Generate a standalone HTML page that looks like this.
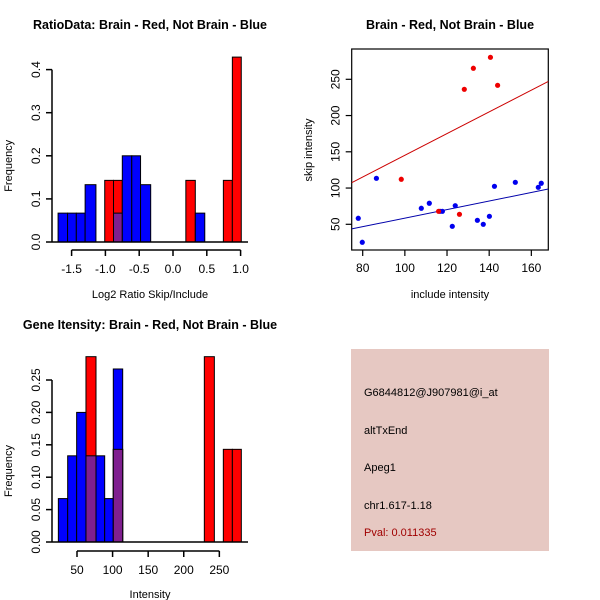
<!DOCTYPE html>
<html><head><meta charset="utf-8"><style>
html,body{margin:0;padding:0;background:#fff}
svg{display:block;font-family:"Liberation Sans",sans-serif}
</style></head><body>
<svg id="c" width="600" height="600" xmlns="http://www.w3.org/2000/svg">
<rect x="0" y="0" width="600" height="600" fill="#fff"/>
<g id="p1"></g>
<g id="p2"></g>
<g id="p3"></g>
<g>
<rect x="351" y="349" width="198" height="202" fill="#e6c8c2"/>
<text x="364" y="396" font-size="11" fill="#000">G6844812@J907981@i_at</text>
<text x="364" y="434" font-size="11" fill="#000">altTxEnd</text>
<text x="364" y="471" font-size="11" fill="#000">Apeg1</text>
<text x="364" y="509" font-size="11" fill="#000">chr1.617-1.18</text>
<text x="364" y="536" font-size="11" fill="#a00000">Pval: 0.011335</text>
</g>
</svg>
<script>
// ---- Panel 1 data: ratio histogram ----
const ratioBlueBins = [[-1.70,-1.56],[-1.56,-1.43],[-1.43,-1.30],[-1.30,-1.14],[-0.88,-0.75],[-0.75,-0.61],[-0.61,-0.48],[-0.48,-0.33],[0.33,0.47]];
const ratioBlueFreq = [0.067,0.067,0.067,0.133,0.067,0.2,0.2,0.133,0.067];
const ratioRedBins = [[-1.01,-0.88],[-0.88,-0.75],[0.19,0.33],[0.745,0.878],[0.878,1.01]];
const ratioRedFreq = [0.143,0.143,0.143,0.143,0.429];
const ratioXTicks = [-1.5,-1.0,-0.5,0.0,0.5,1.0];
const ratioXLabels = ["-1.5","-1.0","-0.5","0.0","0.5","1.0"];
const ratioYTicks = [0,0.1,0.2,0.3,0.4];
const ratioYLabels = ["0.0","0.1","0.2","0.3","0.4"];
// ---- Panel 2 data: scatter ----
const blueX = [77.9,79.8,86.5,107.8,111.6,116.7,117.8,122.5,123.9,134.4,137.2,140.1,142.5,152.4,163.3,164.7];
const blueY = [58.3,25.2,113.4,72.1,79.0,67.9,67.9,47.2,75.7,55.5,50.0,61.0,102.4,107.9,101.0,106.6];
const redX = [98.3,128.2,132.5,140.6,144.0,125.9,116.0];
const redY = [112.1,236.2,265.2,280.3,241.7,63.8,67.9];
const redFit = [-4.5,1.497];   // intercept, slope
const blueFit = [-0.5,0.59];
const scatXTicks = [80,100,120,140,160];
const scatYTicks = [50,100,150,200,250];
// ---- Panel 3 data: intensity histogram ----
const intBlueBins = [[23.8,36.9],[36.9,49.5],[49.5,62.6],[62.6,76.7],[76.7,88.9],[88.9,101],[101,114.2]];
const intBlueFreq = [0.067,0.133,0.2,0.133,0.133,0.067,0.267];
const intRedBins = [[62.6,76.7],[101,114.2],[228.9,243],[255.6,268.3],[268.3,280.9]];
const intRedFreq = [0.286,0.143,0.286,0.143,0.143];
const intXTicks = [50,100,150,200,250];
const intYTicks = [0,0.05,0.10,0.15,0.20,0.25];
const intYLabels = ["0.00","0.05","0.10","0.15","0.20","0.25"];

const NS="http://www.w3.org/2000/svg";
function mk(parent,tag,attrs){const e=document.createElementNS(NS,tag);for(const k in attrs)e.setAttribute(k,attrs[k]);parent.appendChild(e);return e;}
function txt(parent,x,y,s,size,extra){const t=mk(parent,'text',Object.assign({x:x,y:y,'font-size':size,'text-anchor':'middle',fill:'#000'},extra||{}));t.textContent=s;return t;}

function histPanel(g,xs,ys,yBase,blueB,blueF,redB,redF,xT,xL,yT,yL,xAxisY,yAxisX,xlab,title,titleY,xlabY){
  const tt=txt(g,150,titleY,title,12.5,{'font-weight':'bold'});
  
  
  redB.forEach((b,i)=>{
    const r=mk(g,'rect',{x:xs(b[0]),y:ys(redF[i]),width:xs(b[1])-xs(b[0]),height:yBase-ys(redF[i]),fill:'#ff0000',stroke:'#000','stroke-width':1});
    
    
  });
  blueB.forEach((b,i)=>{
    let ov=0;
    redB.forEach((rb,j)=>{if(Math.abs(rb[0]-b[0])<0.01*(Math.abs(b[0])+1)&&Math.abs(rb[1]-b[1])<0.01*(Math.abs(b[1])+1)) ov=redF[j];});
    const bh=blueF[i];
    if(ov>0){
      const lo=Math.min(ov,bh);
      if(bh>ov){
        const r=mk(g,'rect',{x:xs(b[0]),y:ys(bh),width:xs(b[1])-xs(b[0]),height:yBase-ys(bh),fill:'#0000ff',stroke:'#000','stroke-width':1});
        
        
      }
      const p=mk(g,'rect',{x:xs(b[0]),y:ys(lo),width:xs(b[1])-xs(b[0]),height:yBase-ys(lo),fill:'#7f1f8f',stroke:'#000','stroke-width':1});
      
      
    } else {
      const r=mk(g,'rect',{x:xs(b[0]),y:ys(bh),width:xs(b[1])-xs(b[0]),height:yBase-ys(bh),fill:'#0000ff',stroke:'#000','stroke-width':1});
      
      
    }
  });
  const bl=mk(g,'line',{x1:52,x2:248,y1:yBase,y2:yBase,stroke:'#000','stroke-width':1.5});
  
  
  const xa=mk(g,'line',{x1:xs(xT[0]),x2:xs(xT[xT.length-1]),y1:xAxisY,y2:xAxisY,stroke:'#000','stroke-width':1.5});
  
  
  xT.forEach((v,i)=>{
    mk(g,'line',{x1:xs(v),x2:xs(v),y1:xAxisY,y2:xAxisY+6,stroke:'#000','stroke-width':1.5});
    const t=txt(g,xs(v),xAxisY+23,xL[i],12);
    
    
  });
  const ya=mk(g,'line',{x1:yAxisX,x2:yAxisX,y1:ys(yT[yT.length-1]),y2:ys(yT[0]),stroke:'#000','stroke-width':1.5});
  
  
  yT.forEach((v,i)=>{
    mk(g,'line',{x1:yAxisX-6,x2:yAxisX,y1:ys(v),y2:ys(v),stroke:'#000','stroke-width':1.5});
    const t=txt(g,0,0,yL[i],12,{transform:`translate(${yAxisX-12},${ys(v)}) rotate(-90)`});
    
    
  });
  const xl=txt(g,150,xlabY,xlab,11);
  
  
  const yl=txt(g,0,0,'Frequency',11,{transform:`translate(12,${(ys(yT[0])+ys(yT[yT.length-1]))/2+10}) rotate(-90)`});
  
  
}

(function(){
  const g=document.getElementById('p1');
  const xs=v=>173+v*67.6;
  const ys=v=>242-v*431;
  histPanel(g,xs,ys,242,ratioBlueBins,ratioBlueFreq,ratioRedBins,ratioRedFreq,ratioXTicks,ratioXLabels,ratioYTicks,ratioYLabels,250,52,'Log2 Ratio Skip/Include','RatioData: Brain - Red, Not Brain - Blue',29,298);
})();
(function(){
  const g=document.getElementById('p3');
  const xs=v=>77+(v-50)*0.7117;
  const ys=v=>542-v*648;
  histPanel(g,xs,ys,542,intBlueBins,intBlueFreq,intRedBins,intRedFreq,intXTicks,intXTicks.map(String),intYTicks,intYLabels,551,52,'Intensity','Gene Itensity: Brain - Red, Not Brain - Blue',329,598);
})();
(function(){
  const g=document.getElementById('p2');
  const x0=351.7,x1=548.3,yTop=49,yBot=250;
  const xs=v=>362.7+(v-80)*2.108;
  const ys=v=>224.3-(v-50)*0.725;
  const xv=p=>80+(p-362.7)/2.108;
  const t=txt(g,450,29,'Brain - Red, Not Brain - Blue',12.5,{'font-weight':'bold'});
  
  
  const box=mk(g,'rect',{x:x0,y:yTop,width:x1-x0,height:yBot-yTop,fill:'none',stroke:'#000','stroke-width':1.2});
  
  
  const cp=mk(g,'clipPath',{id:'clip2'});mk(cp,'rect',{x:x0,y:yTop,width:x1-x0,height:yBot-yTop});
  const lr=mk(g,'line',{x1:x0,x2:x1,y1:ys(redFit[0]+redFit[1]*xv(x0)),y2:ys(redFit[0]+redFit[1]*xv(x1)),stroke:'#cc0000','stroke-width':1,'clip-path':'url(#clip2)'});
  
  
  const lb=mk(g,'line',{x1:x0,x2:x1,y1:ys(blueFit[0]+blueFit[1]*xv(x0)),y2:ys(blueFit[0]+blueFit[1]*xv(x1)),stroke:'#0000aa','stroke-width':1,'clip-path':'url(#clip2)'});
  
  
  blueX.forEach((v,i)=>{
    const c=mk(g,'circle',{cx:xs(v),cy:ys(blueY[i]),r:2.6,fill:'#0000ee'});
    
    
  });
  redX.forEach((v,i)=>{
    const c=mk(g,'circle',{cx:xs(v),cy:ys(redY[i]),r:2.6,fill:'#ee0000'});
    
    
  });
  scatXTicks.forEach(v=>{
    mk(g,'line',{x1:xs(v),x2:xs(v),y1:yBot,y2:yBot+6,stroke:'#000','stroke-width':1.2});
    const l=txt(g,xs(v),yBot+22,String(v),12);
    
    
  });
  scatYTicks.forEach(v=>{
    mk(g,'line',{x1:x0-6,x2:x0,y1:ys(v),y2:ys(v),stroke:'#000','stroke-width':1.2});
    const l=txt(g,0,0,String(v),12,{transform:`translate(${x0-12},${ys(v)}) rotate(-90)`});
    
    
  });
  const xl=txt(g,450,298,'include intensity',11);
  
  
  const yl=txt(g,0,0,'skip intensity',11,{transform:'translate(312,150) rotate(-90)'});
  
  
})();
</script>
</body></html>
